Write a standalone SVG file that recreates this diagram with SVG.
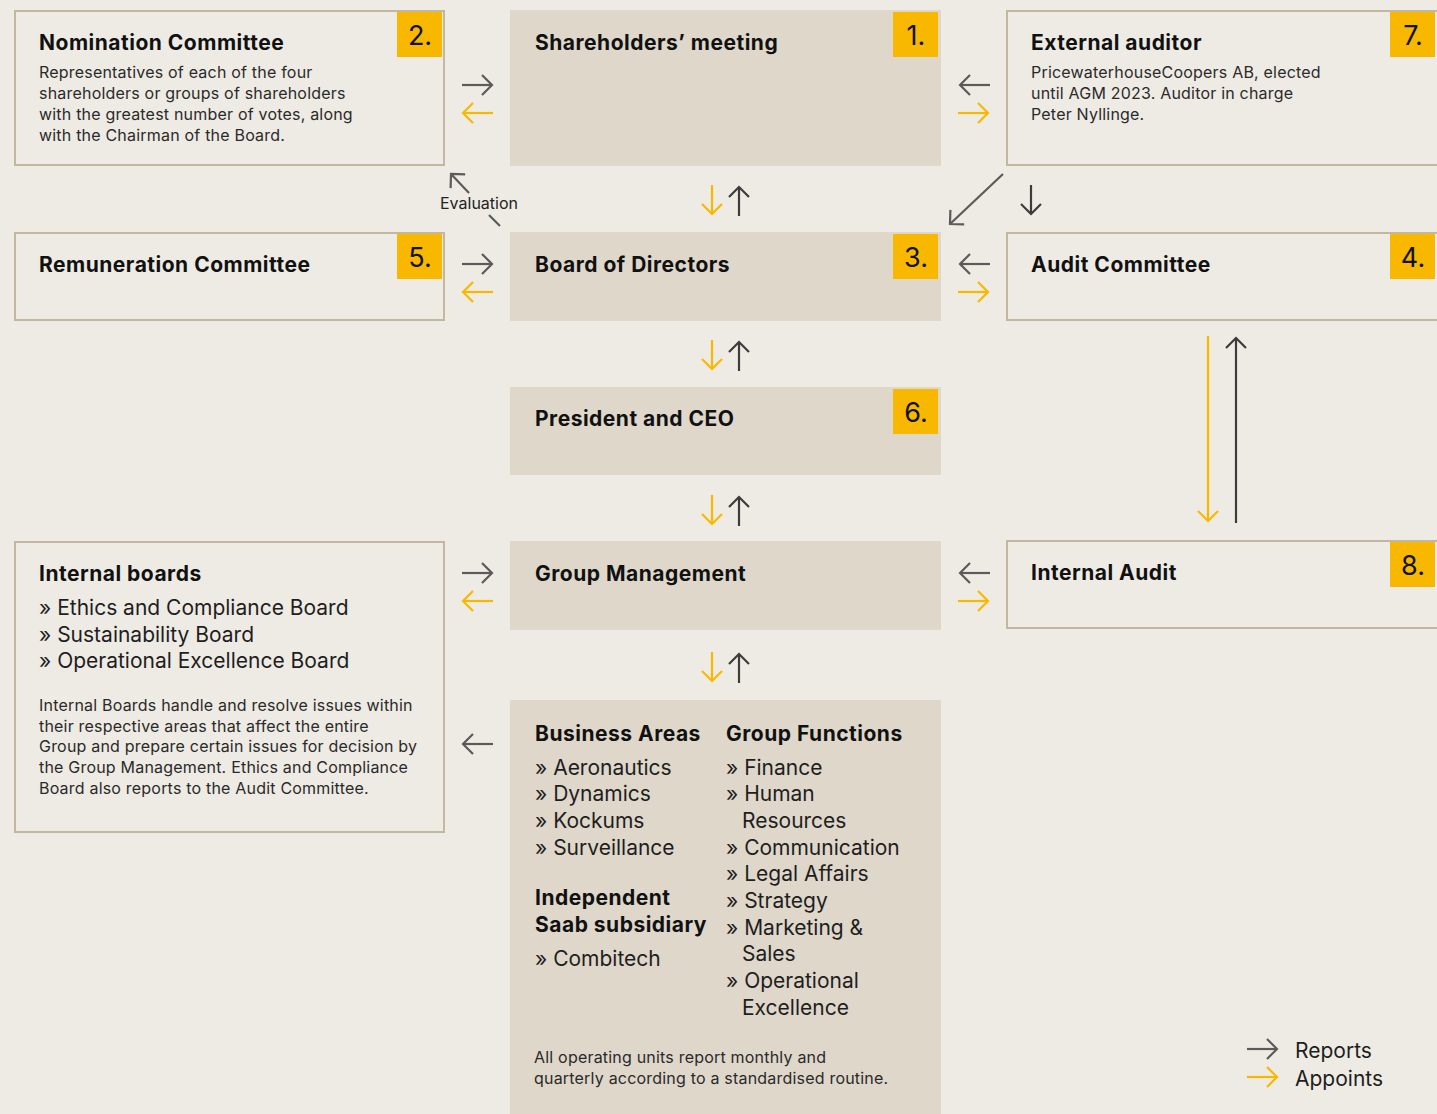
<svg xmlns="http://www.w3.org/2000/svg" width="1437" height="1114" viewBox="0 0 1437 1114">
<defs>
<marker id="hg" markerUnits="userSpaceOnUse" markerWidth="24" markerHeight="24" refX="12" refY="12" orient="auto"><path d="M2,2 L12,12 L2,22" fill="none" stroke="#5a5b5a" stroke-width="2.2"/></marker>
<marker id="hy" markerUnits="userSpaceOnUse" markerWidth="24" markerHeight="24" refX="12" refY="12" orient="auto"><path d="M2,2 L12,12 L2,22" fill="none" stroke="#f8b800" stroke-width="2.2"/></marker>
<marker id="hd" markerUnits="userSpaceOnUse" markerWidth="24" markerHeight="24" refX="12" refY="12" orient="auto"><path d="M2,2 L12,12 L2,22" fill="none" stroke="#3c3c3c" stroke-width="2.2"/></marker>
</defs>
<style>
.bg{fill:#eeebe4}
.ob{fill:#eeebe4;stroke:#c4b7a0;stroke-width:2}
.cb{fill:#ded7ca}
.badge{fill:#f8b800}
.num{font-family:Inter,"Liberation Sans",sans-serif;font-size:27px;fill:#111;text-anchor:middle}
.t{font-family:Inter,"Liberation Sans",sans-serif;font-size:21px;font-weight:700;fill:#111;letter-spacing:0.5px}
.b{font-family:Inter,"Liberation Sans",sans-serif;font-size:16px;fill:#2a2a2a;letter-spacing:0.2px}
.l{font-family:Inter,"Liberation Sans",sans-serif;font-size:21px;fill:#1e1e1e}
.ev{font-family:Inter,"Liberation Sans",sans-serif;font-size:16px;fill:#222;text-anchor:middle}
.g{stroke:#5a5b5a;stroke-width:2.2;fill:none;marker-end:url(#hg)}
.d{stroke:#3c3c3c;stroke-width:2.2;fill:none;marker-end:url(#hd)}
.y{stroke:#f8b800;stroke-width:2.2;fill:none;marker-end:url(#hy)}
</style>
<rect class="bg" x="0" y="0" width="1437" height="1114"/>

<g id="nomination">
<rect class="ob" x="15" y="11" width="429" height="154"/>
<rect class="badge" x="397" y="12" width="45" height="45"/>
<text class="num" x="420" y="45">2.</text>
<text class="t" x="39" y="50">Nomination Committee</text>
<text class="b" x="39" y="78">Representatives of each of the four</text>
<text class="b" x="39" y="99">shareholders or groups of shareholders</text>
<text class="b" x="39" y="120">with the greatest number of votes, along</text>
<text class="b" x="39" y="141">with the Chairman of the Board.</text>
</g>

<g id="shareholders">
<rect class="cb" x="510" y="10" width="431" height="156"/>
<rect class="badge" x="893" y="12" width="45" height="45"/>
<text class="num" x="916" y="45">1.</text>
<text class="t" x="535" y="50">Shareholders’ meeting</text>
</g>

<g id="external-auditor">
<rect class="ob" x="1007" y="11" width="431" height="154"/>
<rect class="badge" x="1390" y="12" width="45" height="45"/>
<text class="num" x="1413" y="45">7.</text>
<text class="t" x="1031" y="50">External auditor</text>
<text class="b" x="1031" y="78">PricewaterhouseCoopers AB, elected</text>
<text class="b" x="1031" y="99">until AGM 2023. Auditor in charge</text>
<text class="b" x="1031" y="120">Peter Nyllinge.</text>
</g>

<g id="remuneration">
<rect class="ob" x="15" y="233" width="429" height="87"/>
<rect class="badge" x="397" y="234" width="45" height="45"/>
<text class="num" x="420" y="267">5.</text>
<text class="t" x="39" y="272">Remuneration Committee</text>
</g>

<g id="board">
<rect class="cb" x="510" y="232" width="431" height="89"/>
<rect class="badge" x="893" y="234" width="45" height="45"/>
<text class="num" x="916" y="267">3.</text>
<text class="t" x="535" y="272">Board of Directors</text>
</g>

<g id="audit-committee">
<rect class="ob" x="1007" y="233" width="431" height="87"/>
<rect class="badge" x="1390" y="234" width="45" height="45"/>
<text class="num" x="1413" y="267">4.</text>
<text class="t" x="1031" y="272">Audit Committee</text>
</g>

<g id="president">
<rect class="cb" x="510" y="387" width="431" height="88"/>
<rect class="badge" x="893" y="389" width="45" height="45"/>
<text class="num" x="916" y="422">6.</text>
<text class="t" x="535" y="426">President and CEO</text>
</g>

<g id="internal-boards">
<rect class="ob" x="15" y="542" width="429" height="290"/>
<text class="t" x="39" y="581">Internal boards</text>
<text class="l" x="39" y="615">» Ethics and Compliance Board</text>
<text class="l" x="39" y="642">» Sustainability Board</text>
<text class="l" x="39" y="668">» Operational Excellence Board</text>
<text class="b" x="39" y="711">Internal Boards handle and resolve issues within</text>
<text class="b" x="39" y="732">their respective areas that affect the entire</text>
<text class="b" x="39" y="752">Group and prepare certain issues for decision by</text>
<text class="b" x="39" y="773">the Group Management. Ethics and Compliance</text>
<text class="b" x="39" y="794">Board also reports to the Audit Committee.</text>
</g>

<g id="group-management">
<rect class="cb" x="510" y="541" width="431" height="89"/>
<text class="t" x="535" y="581">Group Management</text>
</g>

<g id="internal-audit">
<rect class="ob" x="1007" y="541" width="431" height="87"/>
<rect class="badge" x="1390" y="542" width="45" height="45"/>
<text class="num" x="1413" y="575">8.</text>
<text class="t" x="1031" y="580">Internal Audit</text>
</g>

<g id="operating-units">
<rect class="cb" x="510" y="700" width="431" height="414"/>
<text class="t" x="535" y="741">Business Areas</text>
<text class="l" x="535" y="775">» Aeronautics</text>
<text class="l" x="535" y="801">» Dynamics</text>
<text class="l" x="535" y="828">» Kockums</text>
<text class="l" x="535" y="855">» Surveillance</text>
<text class="t" x="535" y="905">Independent</text>
<text class="t" x="535" y="932">Saab subsidiary</text>
<text class="l" x="535" y="966">» Combitech</text>
<text class="t" x="726" y="741">Group Functions</text>
<text class="l" x="726" y="775">» Finance</text>
<text class="l" x="726" y="801">» Human</text>
<text class="l" x="742" y="828">Resources</text>
<text class="l" x="726" y="855">» Communication</text>
<text class="l" x="726" y="881">» Legal Affairs</text>
<text class="l" x="726" y="908">» Strategy</text>
<text class="l" x="726" y="935">» Marketing &amp;</text>
<text class="l" x="742" y="961">Sales</text>
<text class="l" x="726" y="988">» Operational</text>
<text class="l" x="742" y="1015">Excellence</text>
<text class="b" x="534" y="1063">All operating units report monthly and</text>
<text class="b" x="534" y="1084">quarterly according to a standardised routine.</text>
</g>

<g id="connectors">
<line class="g" x1="462" y1="85" x2="492" y2="85"/>
<line class="y" x1="493" y1="113" x2="463" y2="113"/>
<line class="g" x1="990" y1="85" x2="960" y2="85"/>
<line class="y" x1="958" y1="113" x2="988" y2="113"/>
<line class="g" x1="462" y1="264" x2="492" y2="264"/>
<line class="y" x1="493" y1="292" x2="463" y2="292"/>
<line class="g" x1="990" y1="264" x2="960" y2="264"/>
<line class="y" x1="958" y1="292" x2="988" y2="292"/>
<line class="g" x1="462" y1="573" x2="492" y2="573"/>
<line class="y" x1="493" y1="601" x2="463" y2="601"/>
<line class="g" x1="990" y1="573" x2="960" y2="573"/>
<line class="y" x1="958" y1="601" x2="988" y2="601"/>
<line class="g" x1="493" y1="744" x2="463" y2="744"/>

<line class="y" x1="712" y1="185" x2="712" y2="214"/>
<line class="d" x1="739" y1="216" x2="739" y2="187"/>
<line class="y" x1="712" y1="340" x2="712" y2="369"/>
<line class="d" x1="739" y1="371" x2="739" y2="342"/>
<line class="y" x1="712" y1="495" x2="712" y2="524"/>
<line class="d" x1="739" y1="526" x2="739" y2="497"/>
<line class="y" x1="712" y1="652" x2="712" y2="681"/>
<line class="d" x1="739" y1="683" x2="739" y2="654"/>

<line class="g" x1="1003" y1="174" x2="950" y2="224"/>
<line class="d" x1="1031" y1="185" x2="1031" y2="214"/>
<line class="y" x1="1208" y1="336" x2="1208" y2="521"/>
<line class="d" x1="1236" y1="523" x2="1236" y2="338"/>

<line class="g" x1="469" y1="193" x2="451" y2="174"/>
<line x1="489" y1="215" x2="500" y2="226" stroke="#5a5b5a" stroke-width="2.2"/>
<text class="ev" x="479" y="209">Evaluation</text>
</g>

<g id="legend">
<line class="g" x1="1247" y1="1049" x2="1277" y2="1049"/>
<line class="y" x1="1247" y1="1077" x2="1277" y2="1077"/>
<text class="l" x="1295" y="1058">Reports</text>
<text class="l" x="1295" y="1086">Appoints</text>
</g>
</svg>
